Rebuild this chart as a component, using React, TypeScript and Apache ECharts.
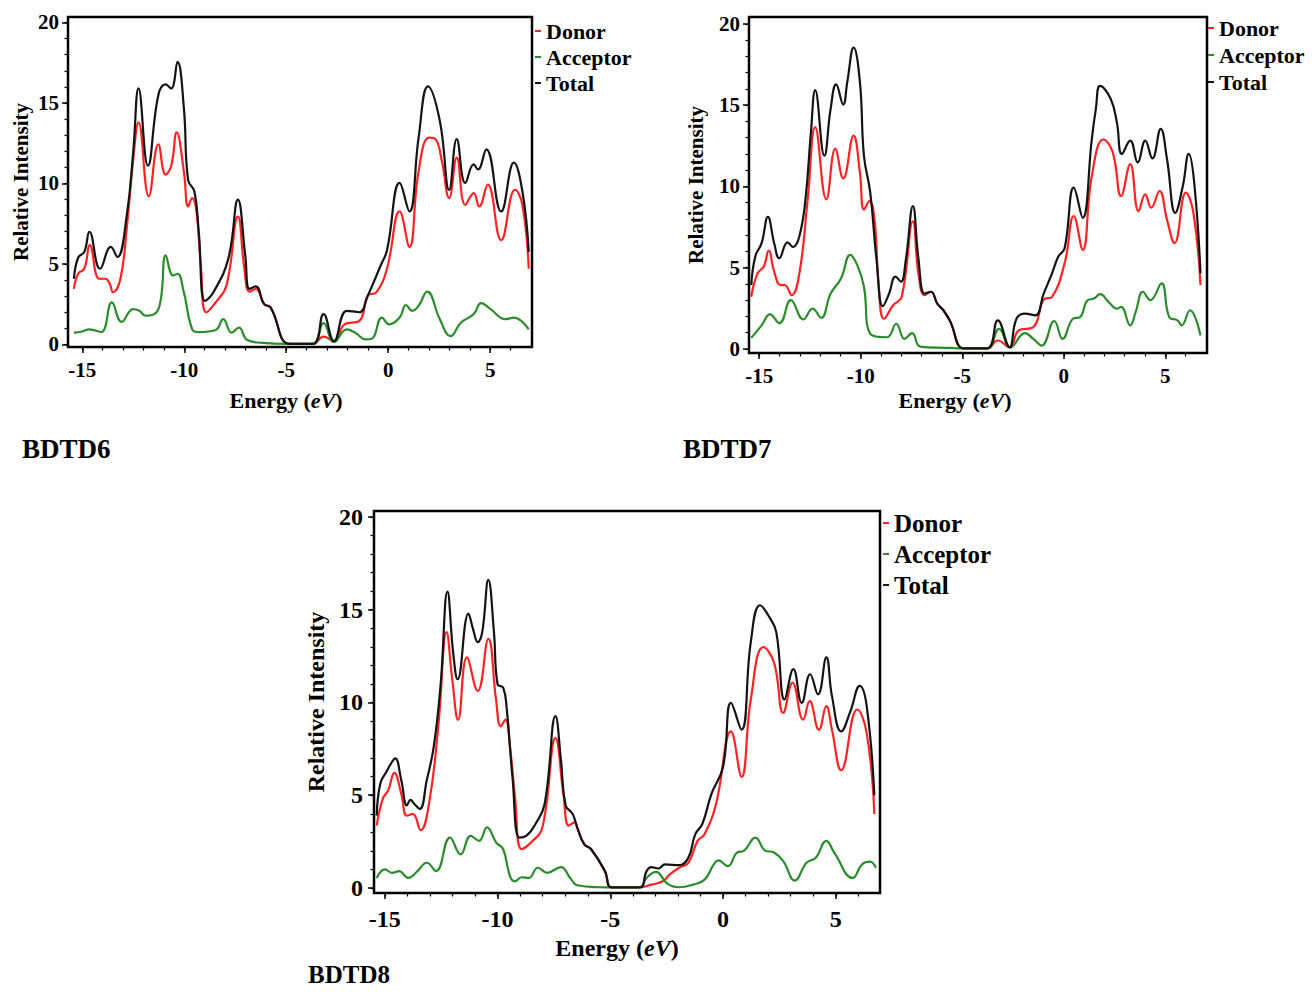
import { useEffect, useRef } from 'react';
import * as echarts from 'echarts';

const FONT = '"Liberation Serif", "Times New Roman", serif';

// ---- axis ticks ----
const energyTicks = [-15, -10, -5, 0, 5];
const energyMinorTicks = [-15, -14, -13, -12, -11, -10, -9, -8, -7, -6, -5, -4, -3, -2, -1, 0, 1, 2, 3, 4, 5, 6];
const intensityTicks = [0, 5, 10, 15, 20];
const intensityMinorTicks = [0, 1, 2, 3, 4, 5, 6, 7, 8, 9, 10, 11, 12, 13, 14, 15, 16, 17, 18, 19, 20];

const seriesNames = ['Donor', 'Acceptor', 'Total'];
const panelTitles = ['BDTD6', 'BDTD7', 'BDTD8'];

// ---- BDTD6 ----
const bdtd6Donor: number[][] = [
  [-15.41, 3.45], [-15.2, 4.39], [-14.9, 4.7], [-14.63, 6.17], [-14.17, 4.08], [-13.86, 4.08], [-13.65, 3.76], [-13.49, 3.24],
  [-13.13, 4.08], [-12.82, 7.21], [-12.51, 11.39], [-12.24, 13.79], [-11.74, 9.2], [-11.27, 12.43], [-10.91, 10.55], [-10.64, 11.08],
  [-10.37, 13.17], [-10.02, 10.76], [-9.81, 8.57], [-9.61, 9.09], [-9.4, 8.26], [-9.19, 4.91], [-8.92, 1.99], [-8.46, 2.61],
  [-7.93, 3.66], [-7.37, 7.94], [-7.05, 4.7], [-6.8, 3.28], [-6.49, 3.45], [-6.08, 2.5], [-5.77, 2.3], [-4.83, 0.03],
  [-3.69, 0.03], [-3.17, 0.48], [-2.66, 0.2], [-2.14, 1.25], [-1.41, 1.46], [-1.0, 3.03], [-0.58, 3.24], [-0.06, 4.7],
  [0.56, 8.26], [1.04, 6.06], [1.49, 10.76], [2.01, 12.85], [2.32, 12.75], [2.63, 11.39], [2.99, 9.09], [3.36, 11.6],
  [3.78, 8.67], [4.19, 9.4], [4.46, 8.57], [4.88, 9.93], [5.54, 6.48], [6.22, 9.61], [6.58, 8.67], [6.89, 4.7],
];
const bdtd6Acceptor: number[][] = [
  [-15.41, 0.73], [-15.0, 0.8], [-14.65, 0.94], [-14.07, 0.77], [-13.55, 2.61], [-13.07, 1.4], [-12.51, 2.19], [-12.2, 2.09],
  [-11.89, 1.78], [-11.47, 1.88], [-11.16, 2.72], [-10.91, 5.54], [-10.54, 4.28], [-10.33, 4.39], [-10.02, 3.24], [-9.61, 0.94],
  [-9.29, 0.77], [-8.46, 0.9], [-8.09, 1.57], [-7.68, 0.73], [-7.32, 1.04], [-6.91, 0.27], [-6.18, 0.1], [-4.94, 0.03],
  [-3.69, 0.03], [-3.17, 1.32], [-2.66, 0.15], [-2.03, 0.94], [-1.62, 0.73], [-1.1, 0.31], [-0.79, 0.36], [-0.31, 1.67],
  [0.04, 1.25], [0.56, 1.67], [0.87, 2.45], [1.18, 2.09], [1.49, 2.4], [1.91, 3.28], [2.53, 1.57], [3.05, 0.52],
  [3.57, 1.36], [4.19, 1.88], [4.56, 2.57], [5.02, 2.19], [5.75, 1.57], [6.16, 1.67], [6.89, 0.94],
];
const bdtd6Total: number[][] = [
  [-15.41, 4.08], [-15.2, 5.4], [-14.9, 5.75], [-14.65, 7.0], [-14.13, 4.7], [-13.6, 6.06], [-13.28, 5.43], [-12.82, 8.0],
  [-12.5, 12.0], [-12.24, 15.9], [-11.78, 11.1], [-11.27, 15.5], [-10.91, 16.15], [-10.64, 15.9], [-10.33, 17.55], [-10.02, 14.7],
  [-9.81, 10.2], [-9.5, 9.5], [-9.29, 7.0], [-8.98, 2.7], [-8.57, 3.24], [-7.84, 5.33], [-7.37, 9.0], [-7.01, 5.54],
  [-6.8, 3.45], [-6.49, 3.6], [-6.08, 2.5], [-5.77, 2.3], [-4.83, 0.03], [-3.69, 0.03], [-3.17, 1.88], [-2.66, 0.2],
  [-2.03, 2.09], [-1.41, 2.0], [-1.0, 3.03], [-0.37, 4.9], [-0.06, 5.85], [0.56, 10.03], [1.04, 8.26], [1.49, 12.85],
  [1.95, 16.03], [2.53, 13.9], [2.99, 9.6], [3.36, 12.75], [3.78, 10.03], [4.19, 11.18], [4.4, 10.87], [4.81, 12.12],
  [5.54, 8.26], [6.16, 11.29], [6.58, 9.5], [6.89, 5.75],
];

// ---- BDTD7 ----
const bdtd7Donor: number[][] = [
  [-15.39, 3.21], [-15.08, 4.65], [-14.77, 5.07], [-14.53, 6.06], [-14.26, 4.76], [-13.95, 3.93], [-13.74, 3.93], [-13.4, 3.31],
  [-13.02, 4.65], [-12.61, 9.2], [-12.24, 13.65], [-11.69, 9.2], [-11.25, 12.31], [-10.86, 10.49], [-10.35, 13.13], [-10.04, 10.86],
  [-9.84, 8.58], [-9.57, 9.1], [-9.32, 7.96], [-9.12, 4.03], [-8.85, 1.86], [-8.4, 2.69], [-7.98, 3.21], [-7.43, 7.86],
  [-7.16, 4.65], [-6.85, 3.31], [-6.54, 3.52], [-6.23, 2.79], [-5.93, 2.38], [-5.62, 1.76], [-4.9, 0.03], [-3.77, 0.03],
  [-3.25, 0.52], [-2.67, 0.1], [-2.22, 1.14], [-1.5, 1.34], [-0.99, 3.04], [-0.58, 3.21], [0.04, 5.27], [0.49, 8.17],
  [0.93, 6.1], [1.38, 10.65], [1.95, 12.89], [2.41, 12.1], [2.82, 9.41], [3.27, 11.38], [3.68, 8.48], [4.01, 9.51],
  [4.3, 8.69], [4.71, 9.72], [5.08, 7.96], [5.45, 6.51], [6.01, 9.62], [6.38, 8.38], [6.73, 3.93],
];
const bdtd7Acceptor: number[][] = [
  [-15.39, 0.68], [-14.88, 1.45], [-14.47, 2.13], [-14.0, 1.59], [-13.44, 3.0], [-12.82, 1.82], [-12.37, 2.48], [-11.95, 1.92],
  [-11.48, 3.41], [-10.97, 4.34], [-10.51, 5.79], [-10.14, 5.07], [-9.84, 3.83], [-9.53, 0.93], [-8.7, 0.72], [-8.25, 1.55],
  [-7.84, 0.62], [-7.47, 0.97], [-7.06, 0.14], [-5.62, 0.06], [-4.9, 0.03], [-3.77, 0.03], [-3.19, 1.24], [-2.63, 0.1],
  [-1.91, 0.97], [-1.5, 0.62], [-1.09, 0.21], [-0.47, 1.72], [-0.06, 0.62], [0.45, 1.86], [0.8, 1.96], [1.17, 3.0],
  [1.48, 3.1], [1.79, 3.37], [2.2, 2.9], [2.61, 2.48], [2.82, 2.59], [3.27, 1.45], [3.54, 2.28], [3.89, 3.52],
  [4.26, 3.0], [4.81, 4.03], [5.19, 1.96], [5.6, 1.76], [5.8, 1.45], [6.21, 2.38], [6.73, 0.83],
];
const bdtd7Total: number[][] = [
  [-15.39, 3.93], [-15.19, 5.69], [-14.88, 6.51], [-14.57, 8.13], [-14.26, 6.51], [-14.01, 5.58], [-13.6, 6.56], [-13.33, 6.27],
  [-13.02, 6.93], [-12.72, 9.2], [-12.45, 13.34], [-12.24, 15.93], [-11.79, 11.89], [-11.48, 14.79], [-11.21, 16.28], [-10.86, 15.04],
  [-10.66, 16.44], [-10.35, 18.55], [-10.04, 16.44], [-9.84, 11.89], [-9.53, 9.62], [-9.22, 5.48], [-8.91, 2.63], [-8.6, 3.41],
  [-8.29, 4.45], [-8.02, 4.14], [-7.78, 5.48], [-7.43, 8.79], [-7.16, 5.58], [-6.85, 3.41], [-6.54, 3.52], [-6.23, 2.79],
  [-5.93, 2.38], [-5.62, 1.76], [-4.9, 0.03], [-3.77, 0.03], [-3.25, 1.76], [-2.67, 0.1], [-2.33, 1.86], [-1.91, 2.17],
  [-1.4, 2.07], [-0.99, 3.41], [-0.58, 4.65], [-0.27, 5.69], [0.04, 6.2], [0.49, 9.93], [0.93, 8.07], [1.38, 12.93],
  [1.58, 14.79], [1.79, 16.19], [2.3, 15.41], [2.61, 13.96], [2.86, 12.0], [3.27, 12.82], [3.64, 11.48], [4.01, 12.82],
  [4.36, 11.73], [4.77, 13.55], [5.08, 11.69], [5.49, 8.38], [5.86, 10.03], [6.15, 12.0], [6.42, 10.24], [6.73, 4.65],
];

// ---- BDTD8 ----
const bdtd8Donor: number[][] = [
  [-15.36, 3.36], [-15.09, 4.81], [-14.85, 5.26], [-14.58, 6.21], [-14.27, 5.08], [-14.02, 3.9], [-13.76, 3.99], [-13.41, 3.12],
  [-13.04, 4.54], [-12.63, 8.71], [-12.26, 13.79], [-12.01, 11.25], [-11.75, 9.07], [-11.36, 12.43], [-10.88, 10.62], [-10.41, 13.43],
  [-10.06, 10.07], [-9.86, 8.71], [-9.65, 9.07], [-9.45, 7.62], [-9.24, 5.08], [-8.93, 2.09], [-8.52, 2.45], [-8.01, 3.27],
  [-7.43, 8.08], [-7.08, 5.08], [-6.84, 3.36], [-6.57, 3.54], [-6.47, 3.27], [-6.16, 2.36], [-5.85, 2.09], [-5.24, 0.91],
  [-4.93, 0.03], [-3.7, 0.03], [-3.18, 0.18], [-2.67, 0.36], [-2.36, 0.73], [-1.95, 1.09], [-1.54, 1.36], [-1.13, 2.54],
  [-0.82, 2.9], [-0.31, 4.54], [0.35, 8.44], [0.82, 5.99], [1.23, 10.16], [1.79, 12.98], [2.26, 12.16], [2.67, 9.44],
  [3.08, 11.07], [3.55, 9.07], [3.84, 10.07], [4.25, 8.53], [4.58, 9.8], [4.83, 8.53], [5.24, 6.35], [5.95, 9.62],
  [6.37, 8.35], [6.71, 3.99],
];
const bdtd8Acceptor: number[][] = [
  [-15.36, 0.54], [-14.99, 1.0], [-14.68, 0.82], [-14.37, 0.91], [-13.96, 0.54], [-13.55, 0.91], [-13.14, 1.36], [-12.73, 0.91],
  [-12.11, 2.72], [-11.64, 1.81], [-11.19, 2.81], [-10.82, 2.54], [-10.47, 3.27], [-10.06, 2.45], [-9.75, 2.09], [-9.45, 0.64],
  [-9.24, 0.36], [-8.93, 0.58], [-8.62, 0.54], [-8.21, 1.09], [-7.8, 0.82], [-7.19, 1.13], [-6.78, 0.54], [-6.47, 0.15],
  [-5.44, 0.04], [-4.93, 0.03], [-3.7, 0.03], [-3.39, 0.54], [-2.98, 0.87], [-2.46, 0.22], [-1.95, 0.04], [-1.33, 0.18],
  [-0.82, 0.45], [-0.41, 1.27], [-0.21, 1.49], [0.21, 1.18], [0.62, 1.91], [0.92, 2.0], [1.44, 2.72], [1.85, 2.03],
  [2.26, 1.91], [2.67, 1.45], [3.18, 0.4], [3.7, 1.36], [4.11, 1.63], [4.58, 2.54], [4.93, 1.91], [5.75, 0.54],
  [6.16, 1.27], [6.51, 1.42], [6.78, 1.09],
];
const bdtd8Total: number[][] = [
  [-15.36, 3.9], [-15.2, 5.63], [-14.93, 6.26], [-14.72, 6.72], [-14.54, 6.99], [-14.27, 5.81], [-14.02, 4.45], [-13.86, 4.75],
  [-13.7, 4.54], [-13.45, 4.26], [-13.14, 5.81], [-12.83, 7.62], [-12.53, 10.89], [-12.22, 15.97], [-11.97, 12.7], [-11.77, 11.25],
  [-11.29, 14.79], [-11.09, 13.97], [-10.88, 13.25], [-10.68, 13.79], [-10.41, 16.61], [-10.16, 13.79], [-10.0, 10.98], [-9.75, 10.8],
  [-9.59, 9.62], [-9.34, 5.99], [-9.03, 2.72], [-8.73, 2.81], [-8.32, 3.45], [-7.91, 4.54], [-7.43, 9.26], [-7.19, 6.9],
  [-6.98, 4.45], [-6.67, 3.99], [-6.47, 3.27], [-6.16, 2.36], [-5.85, 2.09], [-5.24, 0.91], [-4.93, 0.03], [-3.7, 0.03],
  [-3.39, 0.91], [-3.18, 1.13], [-2.87, 1.05], [-2.57, 1.27], [-1.95, 1.23], [-1.54, 1.63], [-1.23, 2.9], [-0.92, 3.45],
  [-0.51, 5.08], [0.0, 6.53], [0.35, 9.98], [0.82, 8.53], [1.23, 13.25], [1.64, 15.24], [2.05, 14.61], [2.36, 13.79],
  [2.73, 10.16], [3.12, 11.8], [3.49, 9.98], [3.86, 11.52], [4.21, 10.44], [4.58, 12.43], [4.83, 10.34], [5.24, 8.44],
  [5.65, 9.53], [6.06, 10.89], [6.37, 9.8], [6.71, 4.99],
];

const panelData = [
  [bdtd6Donor, bdtd6Acceptor, bdtd6Total],
  [bdtd7Donor, bdtd7Acceptor, bdtd7Total],
  [bdtd8Donor, bdtd8Acceptor, bdtd8Total],
];

const COLORS = ['#ff2323', '#2a8c2a', '#141414'];

const layouts = [
  { left: 68, top: 17, width: 464, height: 330, xMin: -15.7, xMax: 7.05, yMin: -0.16, yMax: 20.34,
    tick: 21, xName: 22, yName: 21, xGap: 42, yGap: 37, xPad: 28, xMargin: 12, yMargin: 9,
    lgLeft: 535, lgTop: 19, lgFont: 22, lgLine: 24, lgGap: 2, tX: 22, tY: 435, tFont: 27 },
  { left: 749, top: 17, width: 458, height: 336, xMin: -15.5, xMax: 7.05, yMin: -0.25, yMax: 20.43,
    tick: 21, xName: 22, yName: 21, xGap: 36, yGap: 43, xPad: 46, xMargin: 12, yMargin: 9,
    lgLeft: 1208, lgTop: 16, lgFont: 22, lgLine: 24, lgGap: 3, tX: 683, tY: 435, tFont: 27 },
  { left: 374, top: 511, width: 506, height: 382, xMin: -15.48, xMax: 6.96, yMin: -0.27, yMax: 20.32,
    tick: 24, xName: 24, yName: 24, xGap: 43, yGap: 46, xPad: 20, xMargin: 14, yMargin: 11,
    lgLeft: 883, lgTop: 510, lgFont: 25, lgLine: 26, lgGap: 5, tX: 308, tY: 962, tFont: 25 },
];

function buildOption() {
  const grid: any[] = [];
  const xAxis: any[] = [];
  const yAxis: any[] = [];
  const series: any[] = [];
  const legend: any[] = [];
  const graphic: any[] = [];

  layouts.forEach((L, p) => {
    grid.push({
      left: L.left, top: L.top, width: L.width, height: L.height,
      show: true, borderColor: '#000', borderWidth: 2.5, backgroundColor: 'transparent',
    });
    const labelStyle = { color: '#000', fontFamily: FONT, fontWeight: 'bold', fontSize: L.tick };
    const minorX = energyMinorTicks.filter((v) => v >= L.xMin && v <= L.xMax);
    const noLine = { show: false, onZero: false };
    xAxis.push({
      type: 'value', gridIndex: p, min: L.xMin, max: L.xMax, position: 'bottom',
      axisLine: noLine, splitLine: { show: false },
      axisTick: { show: true, length: 6, customValues: energyTicks, lineStyle: { color: '#000', width: 1.5 } },
      axisLabel: { ...labelStyle, margin: L.xMargin, customValues: energyTicks },
      name: '{n|Energy (}{i|eV}{n|)}', nameLocation: 'middle', nameGap: L.xGap,
      nameTextStyle: {
        padding: [0, L.xPad, 0, 0],
        rich: {
          n: { fontFamily: FONT, fontWeight: 'bold', fontSize: L.xName, color: '#000' },
          i: { fontFamily: FONT, fontWeight: 'bold', fontStyle: 'italic', fontSize: L.xName, color: '#000' },
        },
      },
    });
    xAxis.push({
      type: 'value', gridIndex: p, min: L.xMin, max: L.xMax, position: 'bottom',
      axisLine: noLine, splitLine: { show: false },
      axisTick: { show: true, length: 3.5, customValues: minorX, lineStyle: { color: '#000', width: 1.2 } },
      axisLabel: { show: false },
    });
    yAxis.push({
      type: 'value', gridIndex: p, min: L.yMin, max: L.yMax, position: 'left',
      axisLine: noLine, splitLine: { show: false },
      axisTick: { show: true, length: 6, customValues: intensityTicks, lineStyle: { color: '#000', width: 1.5 } },
      axisLabel: { ...labelStyle, margin: L.yMargin, customValues: intensityTicks },
      name: 'Relative Intensity', nameLocation: 'middle', nameGap: L.yGap,
      nameTextStyle: { fontFamily: FONT, fontWeight: 'bold', fontSize: L.yName, color: '#000' },
    });
    yAxis.push({
      type: 'value', gridIndex: p, min: L.yMin, max: L.yMax, position: 'left',
      axisLine: noLine, splitLine: { show: false },
      axisTick: { show: true, length: 3.5, customValues: intensityMinorTicks, lineStyle: { color: '#000', width: 1.2 } },
      axisLabel: { show: false },
    });

    seriesNames.forEach((name, s) => {
      series.push({
        type: 'line', name, xAxisIndex: 2 * p, yAxisIndex: 2 * p,
        data: panelData[p][s], showSymbol: false, symbol: 'none', smooth: 0.45,
        color: COLORS[s], lineStyle: { color: COLORS[s], width: 2.2 },
        z: 2 + s, silent: true,
      });
    });

    legend.push({
      left: L.lgLeft, top: L.lgTop, orient: 'vertical', selectedMode: false,
      data: seriesNames, icon: 'rect', itemWidth: 6, itemHeight: 2, itemGap: L.lgGap, padding: 0,
      textStyle: { fontFamily: FONT, fontWeight: 'bold', fontSize: L.lgFont, lineHeight: L.lgLine, color: '#000' },
    });

    graphic.push({
      type: 'text', left: L.tX, top: L.tY,
      style: { text: panelTitles[p], fontFamily: FONT, fontWeight: 'bold', fontSize: L.tFont, lineHeight: L.tFont, fill: '#000' },
    });
  });

  return {
    animation: false,
    backgroundColor: '#fff',
    grid, xAxis, yAxis, series, legend, graphic,
  };
}

export default function App() {
  const ref = useRef<HTMLDivElement>(null);
  useEffect(() => {
    if (!ref.current) return;
    const chart = echarts.init(ref.current, undefined, { renderer: 'svg' });
    chart.setOption(buildOption() as any);
    return () => chart.dispose();
  }, []);
  return (
    <div
      ref={ref}
      style={{ position: 'absolute', left: 0, top: 0, width: 1312, height: 992, background: '#fff' }}
    />
  );
}
